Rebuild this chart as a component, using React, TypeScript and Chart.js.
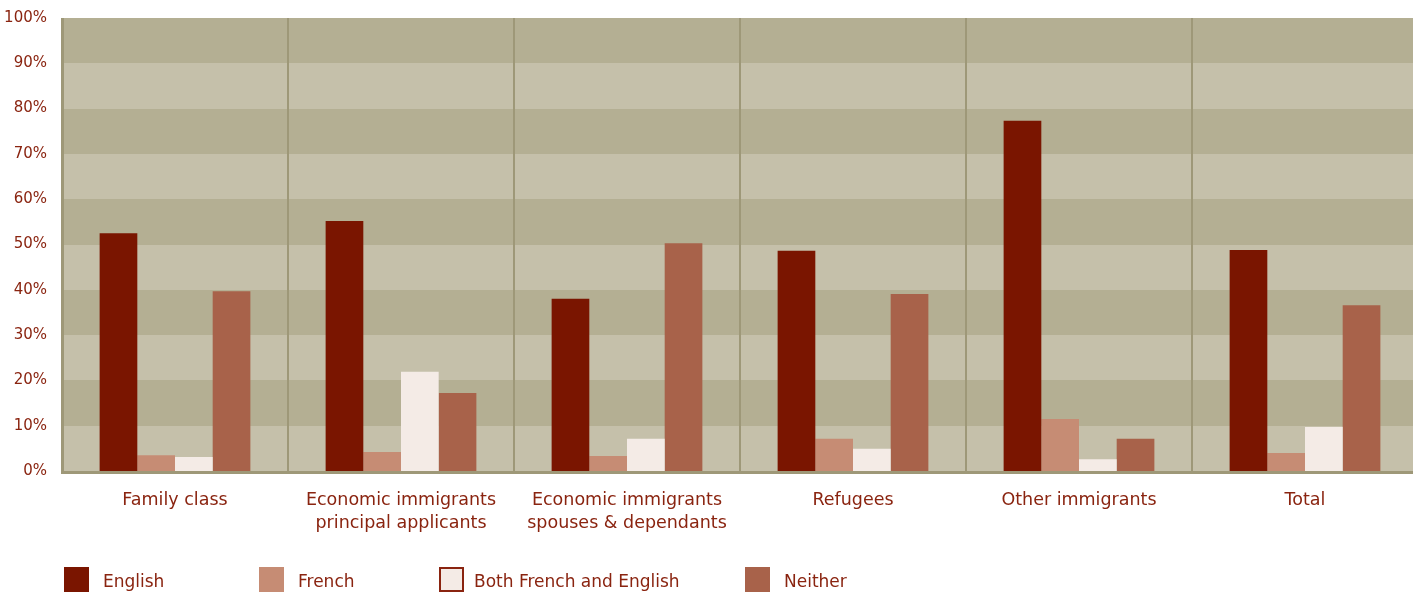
import React, { useEffect, useRef } from "react";
import { Chart, registerables } from "chart.js";

Chart.register(...registerables);

const categories: string[][] = [
  ["Family class"],
  ["Economic immigrants", "principal applicants"],
  ["Economic immigrants", "spouses & dependants"],
  ["Refugees"],
  ["Other immigrants"],
  ["Total"],
];

const english = [52.5, 55.2, 38.0, 48.6, 77.3, 48.8];
const french = [3.5, 4.2, 3.3, 7.1, 11.5, 4.0];
const both = [3.1, 21.9, 7.1, 4.9, 2.6, 9.7];
const neither = [39.7, 17.2, 50.3, 39.1, 7.1, 36.6];

const seriesNames = ["English", "French", "Both French and English", "Neither"];
const seriesColors = ["#7a1500", "#c68c74", "#f4ebe6", "#a8624a"];

const yTicks = [0, 10, 20, 30, 40, 50, 60, 70, 80, 90, 100];

const TEXT = "#8a2410";
const FONT = "'DejaVu Sans', sans-serif";
const GRID = "#9e9878";

const bandsPlugin = {
  id: "bands",
  beforeDraw(chart: any) {
    const { ctx, chartArea, scales } = chart;
    const y = scales.y;
    ctx.save();
    for (let i = 0; i < yTicks.length - 1; i++) {
      const top = Math.round(y.getPixelForValue(yTicks[i + 1]));
      const bot = Math.round(y.getPixelForValue(yTicks[i]));
      ctx.fillStyle = i % 2 === 0 ? "#c5c0aa" : "#b4af93";
      ctx.fillRect(Math.round(chartArea.left), top, Math.ceil(chartArea.right - chartArea.left), bot - top);
    }
    ctx.restore();
  },
  afterDatasetsDraw(chart: any) {
    const { ctx, chartArea } = chart;
    ctx.save();
    ctx.fillStyle = GRID;
    const l = Math.round(chartArea.left);
    const b = Math.round(chartArea.bottom);
    ctx.fillRect(l - 1, Math.round(chartArea.top), 3, b - Math.round(chartArea.top) + 3);
    ctx.fillRect(l - 1, b, Math.ceil(chartArea.right - l) + 1, 3);
    ctx.restore();
  },
};

const legendPos = [64, 259, 439, 745];

export default function App() {
  const ref = useRef<HTMLCanvasElement>(null);
  useEffect(() => {
    const prevMargin = document.body.style.margin;
    document.body.style.margin = "0";
    const chart = new Chart(ref.current!, {
      type: "bar",
      data: {
        labels: categories,
        datasets: [english, french, both, neither].map((d, i) => ({
          label: seriesNames[i],
          data: d,
          backgroundColor: seriesColors[i],
          borderWidth: 0,
          barPercentage: 1,
          categoryPercentage: 0.667,
        })),
      },
      options: {
        animation: false,
        responsive: false,
        maintainAspectRatio: false,
        layout: { padding: { top: 18, right: 0, left: 0, bottom: 0 } },
        plugins: { legend: { display: false }, tooltip: { enabled: false } },
        scales: {
          x: {
            offset: true,
            grid: { offset: true, color: GRID, lineWidth: 2, drawTicks: false },
            border: { display: false },
            ticks: {
              color: TEXT,
              font: { family: FONT, size: 17.5, lineHeight: 1.33 },
              padding: 18,
              maxRotation: 0,
              autoSkip: false,
            },
            afterFit(scale: any) {
              scale.height = 121;
              scale.paddingLeft = 0;
              scale.paddingRight = 0;
            },
          },
          y: {
            min: 0,
            max: 100,
            grid: { display: false, drawTicks: false },
            border: { display: false },
            ticks: {
              stepSize: 10,
              color: TEXT,
              font: { family: FONT, size: 15 },
              padding: 15,
              callback: (v: any) => v + "%",
            },
            afterFit(scale: any) {
              scale.width = 62;
              scale.paddingTop = 0;
              scale.paddingBottom = 0;
            },
          },
        },
      },
      plugins: [bandsPlugin],
    });
    return () => {
      chart.destroy();
      document.body.style.margin = prevMargin;
    };
  }, []);

  return (
    <div style={{ position: "relative", width: 1413, height: 592, overflow: "hidden", background: "#fff" }}>
      <canvas ref={ref} width={1418} height={592} style={{ position: "absolute", left: 0, top: 0 }} />
      {seriesNames.map((n, i) => (
        <div
          key={n}
          style={{ position: "absolute", left: legendPos[i], top: 567, display: "flex", alignItems: "flex-start" }}
        >
          <div
            style={{
              width: 25,
              height: 25,
              boxSizing: "border-box",
              background: seriesColors[i],
              border: i === 2 ? "2px solid #8a2410" : "none",
            }}
          />
          <span
            style={{
              marginLeft: i === 2 ? 10 : 14,
              fontFamily: FONT,
              fontSize: 17,
              color: TEXT,
              lineHeight: "28px",
            }}
          >
            {n}
          </span>
        </div>
      ))}
    </div>
  );
}
